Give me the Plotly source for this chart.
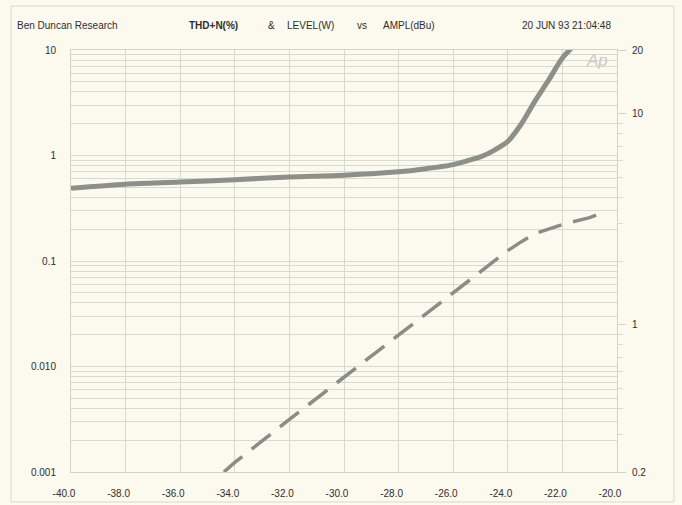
import plotly.graph_objects as go

# ---- data ----
thd_ampl = [-40, -38, -36, -34, -32, -30, -28, -27, -26, -25.5, -25, -24.5, -24, -23.5, -23, -22.5, -22, -21.5, -21]
thd_pct = [0.49, 0.535, 0.56, 0.59, 0.625, 0.65, 0.70, 0.75, 0.82, 0.89, 0.97, 1.12, 1.36, 2.0, 3.3, 5.2, 8.4, 11.5, 15.0]

lvl_ampl = [-34.4, -34, -32, -30, -28, -26, -24, -23.5, -23, -22, -21, -20.6]
lvl_watts = [0.20, 0.222, 0.355, 0.562, 0.90, 1.42, 2.24, 2.47, 2.70, 2.98, 3.21, 3.36]

x_ticks = [-40, -38, -36, -34, -32, -30, -28, -26, -24, -22, -20]
x_labels = ["-40.0", "-38.0", "-36.0", "-34.0", "-32.0", "-30.0", "-28.0", "-26.0", "-24.0", "-22.0", "-20.0"]
yl_ticks = [10, 1, 0.1, 0.01, 0.001]
yl_labels = ["10", "1", "0.1", "0.010", "0.001"]
yr_ticks = [20, 10, 1, 0.2]
yr_labels = ["20", "10", "1", "0.2"]

BG = "#fcf9ef"
GRID = "#d6dbd0"
TXT = "#2e2e2e"
FONT = "Liberation Sans"

L, R, T, B = 71, 617, 50, 472
W, H = 682, 505

minor_l = [m * 10 ** e for e in range(-3, 1) for m in range(2, 10)]
minor_r = [m * 10 ** e for e in range(-1, 2) for m in range(2, 10) if 0.2 < m * 10 ** e < 20]

fig = go.Figure()
fig.add_trace(go.Scatter(
    x=thd_ampl, y=thd_pct, mode="lines", line=dict(color="#8d9089", width=5, shape="spline", smoothing=0.8),
    yaxis="y", showlegend=False, hoverinfo="skip"))
fig.add_trace(go.Scatter(
    x=lvl_ampl, y=lvl_watts, mode="lines", line=dict(color="#8a8c86", width=3.5, dash="24px,12px"),
    yaxis="y2", showlegend=False, hoverinfo="skip"))

fig.update_layout(
    width=W, height=H,
    margin=dict(l=L, r=W - R, t=T, b=H - B, autoexpand=False),
    paper_bgcolor=BG, plot_bgcolor=BG,
    font=dict(family=FONT, size=10, color=TXT),
    xaxis=dict(
        range=[-40, -20], tickvals=x_ticks, ticktext=x_labels, automargin=False,
        showgrid=True, gridcolor=GRID, gridwidth=1, zeroline=False,
        showline=True, linecolor="#cfd4c8", linewidth=1, mirror=True,
        ticks="", ticklabelstandoff=12, ticklabelshift=-7,
        tickfont=dict(family=FONT, size=10, color=TXT)),
    yaxis=dict(
        type="log", range=[-3, 1], tickvals=yl_ticks, ticktext=yl_labels, automargin=False,
        showgrid=True, gridcolor=GRID, gridwidth=1, zeroline=False,
        minor=dict(tickvals=minor_l, showgrid=True, gridcolor=GRID, gridwidth=1, ticks=""),
        showline=True, linecolor="#cfd4c8", linewidth=1, mirror=True,
        ticks="", ticklabelstandoff=12,
        tickfont=dict(family=FONT, size=10, color=TXT)),
    yaxis2=dict(
        type="log", range=[-0.69897, 1.30103], overlaying="y", side="right", automargin=False,
        tickvals=yr_ticks, ticktext=yr_labels, showgrid=False, zeroline=False,
        ticks="outside", ticklen=8, tickcolor="#cfd4c8",
        minor=dict(tickvals=minor_r, ticks="outside", ticklen=5, tickcolor="#d8dcd2", showgrid=False),
        showline=True, linecolor="#cfd4c8",
        ticklabelstandoff=4,
        tickfont=dict(family=FONT, size=10, color=TXT)),
)

def px2paper(px, py):
    return (px - L) / float(R - L), (B - py) / float(B - T)

header = [
    ("Ben Duncan Research", 15),
    ("<b>THD+N(%)</b>", 187),
    ("&", 266),
    ("LEVEL(W)", 285),
    ("vs", 355),
    ("AMPL(dBu)", 381),
    ("20 JUN 93 21:04:48", 520),
]
for txt, px in header:
    xp, yp = px2paper(px, 25)
    fig.add_annotation(x=xp, y=yp, xref="paper", yref="paper", text=txt, showarrow=False,
                       xanchor="left", yanchor="middle", font=dict(family=FONT, size=10, color=TXT))

xp, yp = px2paper(597, 60)
fig.add_annotation(x=xp, y=yp, xref="paper", yref="paper", text="<i>Ap</i>", showarrow=False,
                   xanchor="center", yanchor="middle", font=dict(family=FONT, size=17, color="#c9cbc4"))

# outer faint frame
x0, y0 = px2paper(11, 502)
x1, y1 = px2paper(674, 6)
fig.add_shape(type="rect", xref="paper", yref="paper", x0=x0, x1=x1, y0=y0, y1=y1,
              line=dict(color="#d8d8cf", width=1), layer="below")

fig.write_html("out.html", config={"displayModeBar": False},
               post_script="document.body.style.margin='0';document.body.style.background='" + BG + "';")
